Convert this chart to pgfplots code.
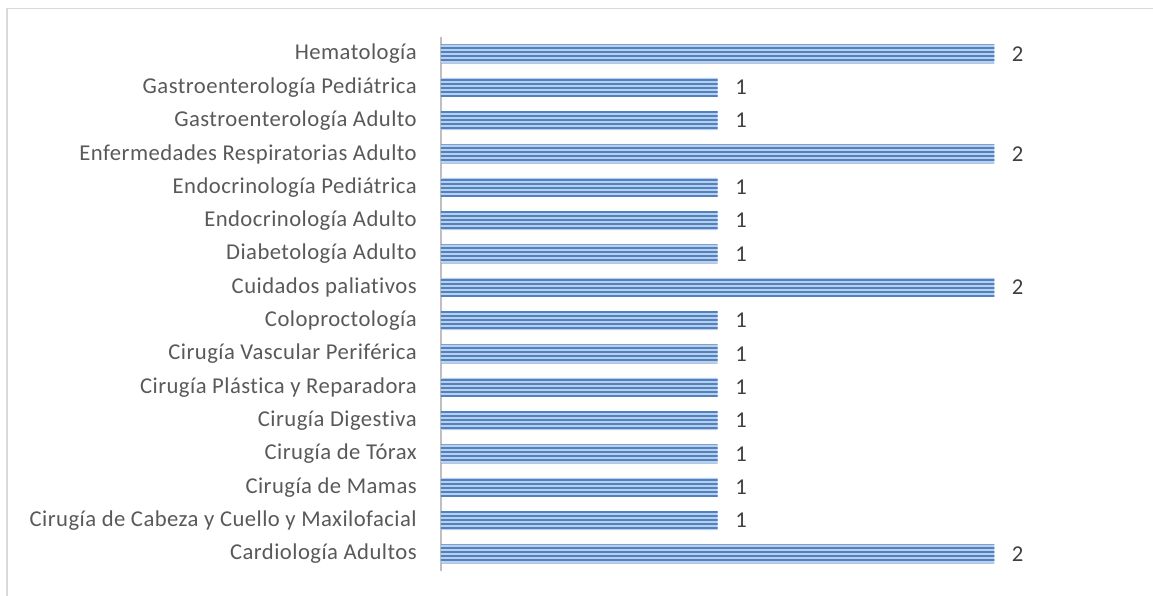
\documentclass[border=0pt]{standalone}
\usepackage{pgfplots}
\pgfplotsset{compat=1.18}
\usetikzlibrary{patterns.meta}
\usepackage{fontspec}
\setmainfont{Carlito}[Ligatures=NoCommon, LetterSpace=2]
\definecolor{barlight}{HTML}{BCCFE9}
\definecolor{bardark}{HTML}{4F82C2}
\definecolor{ticktxt}{HTML}{595959}
\definecolor{valtxt}{HTML}{404040}
\definecolor{axisgray}{HTML}{BFBFBF}
\definecolor{bordergray}{HTML}{D9D9D9}
\begin{document}
\begin{tikzpicture}
\useasboundingbox (-330.75pt,-31.5pt) rectangle (534pt,415.5pt);
\draw[bordergray, line width=1.2pt] (-325.5pt,-40pt) -- (-325.5pt,409.1pt) -- (540pt,409.1pt);
\begin{axis}[
  at={(0pt,0pt)}, anchor=origin,
  x=207.5pt, y=25pt,
  xmin=0, xmax=2,
  ymin=-0.5, ymax=15.5,
  clip=false,
  axis x line=none,
  axis y line=left,
  axis line style={-, axisgray, line width=2.2pt},
  xbar, bar width=14.25pt,
  ytick={0,...,15},
  major tick length=0pt,
  /pgf/number format/assume math mode=true,
  yticklabels={Cardiología Adultos,Cirugía de Cabeza y Cuello y Maxilofacial,Cirugía de Mamas,Cirugía de Tórax,Cirugía Digestiva,Cirugía Plástica y Reparadora,Cirugía Vascular Periférica,Coloproctología,Cuidados paliativos,Diabetología Adulto,Endocrinología Adulto,Endocrinología Pediátrica,Enfermedades Respiratorias Adulto,Gastroenterología Adulto,Gastroenterología Pediátrica,Hematología},
  yticklabel style={font=\fontsize{17}{19}\selectfont, text=ticktxt, anchor=east, inner xsep=0pt, xshift=-18pt},
  nodes near coords,
  every node near coord/.append style={font=\fontsize{17}{19}\selectfont, text=valtxt, anchor=west, inner xsep=0pt, xshift=13pt},
  point meta=x,
]
\addplot[draw=none, fill=barlight, postaction={pattern={Lines[angle=0,distance=3pt,line width=1.3pt]}, pattern color=bardark}] coordinates {
(2,0) (1,1) (1,2) (1,3) (1,4) (1,5) (1,6) (1,7) (2,8) (1,9) (1,10) (1,11) (2,12) (1,13) (1,14) (2,15)
};
\end{axis}
\end{tikzpicture}
\end{document}
